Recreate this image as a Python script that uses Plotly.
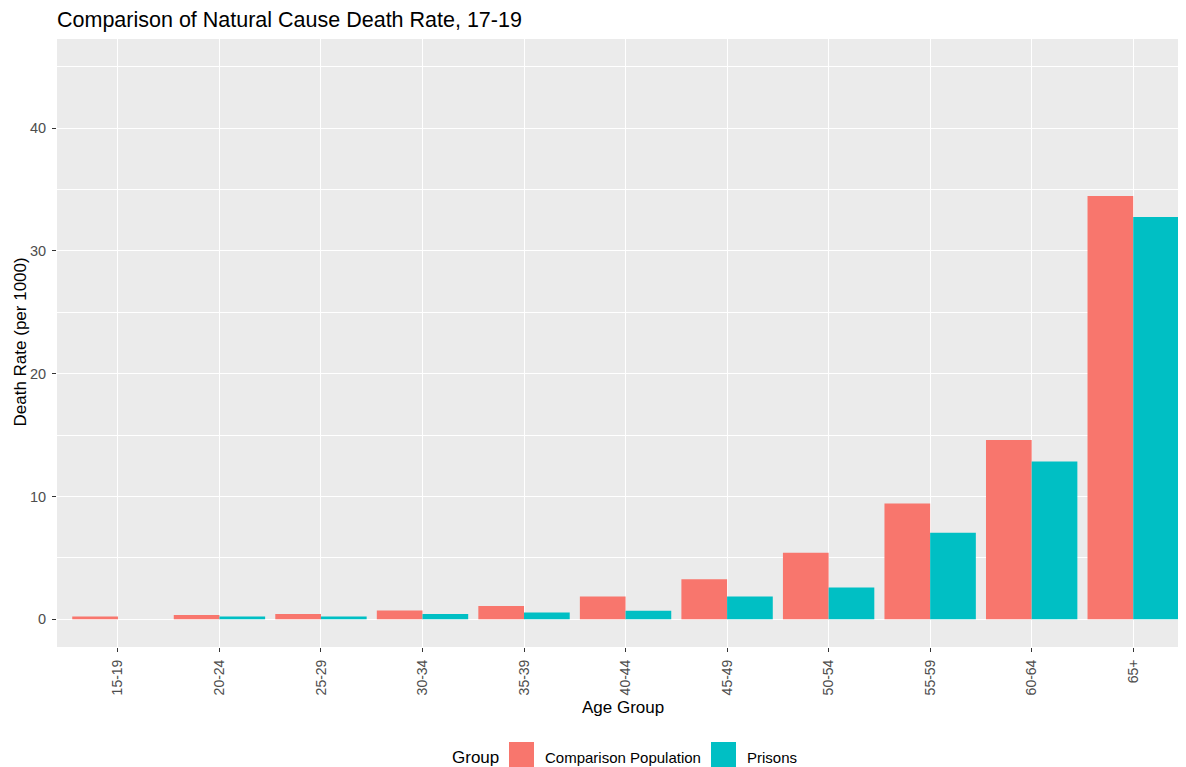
import plotly.graph_objects as go

# ---- data ----
age_groups = ["15-19", "20-24", "25-29", "30-34", "35-39", "40-44",
              "45-49", "50-54", "55-59", "60-64", "65+"]
comparison_population = [0.24, 0.35, 0.43, 0.73, 1.08, 1.87, 3.26, 5.43, 9.43, 14.6, 34.46]
prisons = [None, 0.24, 0.24, 0.43, 0.55, 0.71, 1.87, 2.6, 7.06, 12.85, 32.75]
series_names = ["Comparison Population", "Prisons"]
series_colors = ["#F8766D", "#00BFC4"]

title_text = "Comparison of Natural Cause Death Rate, 17-19"
x_title = "Age Group"
y_title = "Death Rate (per 1000)"
legend_title = "Group"

# page body has an 8px margin, so the figure is drawn 8px smaller and offset
OFF = 8
W, H = 1186 - OFF, 767 - OFF
L, R, T, B = 57 - OFF, 0, 39 - OFF, 120
FONT = "Liberation Sans, Arial, sans-serif"

def px_x(p):
    return (p - OFF - L) / (W - L - R)

def px_y(p):
    return (H - B - (p - OFF)) / (H - B - T)

fig = go.Figure()
for name, vals, col in zip(series_names, [comparison_population, prisons], series_colors):
    fig.add_trace(go.Bar(x=age_groups, y=vals, name=name, marker_color=col,
                         marker_line_width=0, showlegend=False))

fig.update_layout(
    width=W, height=H,
    margin=dict(l=L, r=R, t=T, b=B, pad=0),
    paper_bgcolor="white", plot_bgcolor="#EBEBEB",
    barmode="group", bargap=0.1, bargroupgap=0,
    font=dict(family=FONT, color="#4D4D4D"),
    title=dict(text=title_text, x=0, xref="paper", xanchor="left",
               y=1 - (19 - OFF) / H, yref="container", yanchor="middle",
               font=dict(family=FONT, size=21.5, color="black")),
)

fig.update_xaxes(
    type="category", range=[-0.6, 10.52],
    showgrid=True, gridcolor="white", gridwidth=1.3,
    ticks="outside", ticklen=4, tickcolor="#333333", tickwidth=1.1,
    ticklabelstandoff=2,
    tickangle=-90, tickfont=dict(family=FONT, size=14, color="#4D4D4D"),
    showline=False, zeroline=False,
)
fig.update_yaxes(
    range=[-2.25, 47.25], tick0=0, dtick=10,
    showgrid=True, gridcolor="white", gridwidth=1.3,
    minor=dict(dtick=5, tick0=0, showgrid=True, gridcolor="white", gridwidth=0.6, ticks=""),
    ticks="outside", ticklen=4, tickcolor="#333333", tickwidth=1.1,
    ticklabelstandoff=3,
    tickfont=dict(family=FONT, size=14.5, color="#4D4D4D"),
    showline=False, zeroline=False,
)

# axis titles
fig.add_annotation(text=x_title, xref="paper", yref="paper",
                   x=px_x(623), y=px_y(707), xanchor="center", yanchor="middle",
                   showarrow=False, font=dict(family=FONT, size=17, color="black"))
fig.add_annotation(text=y_title, xref="paper", yref="paper",
                   x=px_x(20), y=px_y(342.5), xanchor="center", yanchor="middle",
                   textangle=-90, showarrow=False,
                   font=dict(family=FONT, size=17, color="black"))

# manual legend (ggplot-style, bottom)
fig.add_annotation(text=legend_title, xref="paper", yref="paper",
                   x=px_x(450), y=px_y(757), xanchor="left", yanchor="middle",
                   showarrow=False, font=dict(family=FONT, size=17, color="black"))
key_lefts = [509, 711]
for name, col, kx in zip(series_names, series_colors, key_lefts):
    fig.add_shape(type="rect", xref="paper", yref="paper",
                  x0=px_x(kx), x1=px_x(kx + 25), y0=px_y(767), y1=px_y(742),
                  fillcolor=col, line_width=0, layer="above")
    fig.add_annotation(text=name, xref="paper", yref="paper",
                       x=px_x(kx + 34), y=px_y(757), xanchor="left", yanchor="middle",
                       showarrow=False, font=dict(family=FONT, size=15, color="black"))

fig.write_html("out.html")
